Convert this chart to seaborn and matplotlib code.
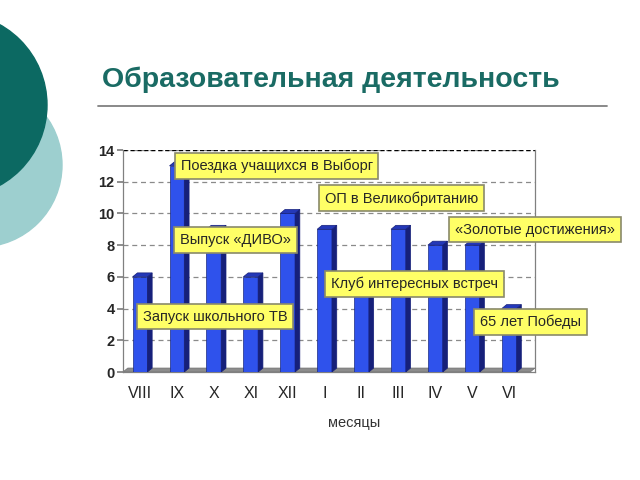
import matplotlib
matplotlib.use("Agg")
import matplotlib.pyplot as plt
import seaborn as sns
from matplotlib.patches import Circle, Polygon

months = ["VIII", "IX", "X", "XI", "XII", "I", "II", "III", "IV", "V", "VI"]
counts = [6, 13, 9, 6, 10, 9, 5, 9, 8, 8, 4]

callout_texts = ["Поездка учащихся в Выборг", "ОП в Великобританию", "Выпуск «ДИВО»",
                 "«Золотые достижения»", "Клуб интересных встреч",
                 "Запуск школьного ТВ", "65 лет Победы"]
callout_x = [3.70, 7.08, 2.59, 10.70, 7.43, 2.03, 10.57]
callout_y = [13.0, 10.95, 8.34, 8.98, 5.54, 3.5, 3.18]

sns.set_theme(style="white")
plt.rcParams['font.family'] = ['Liberation Sans', 'DejaVu Sans']

fig = plt.figure(figsize=(6.4, 4.8), dpi=100)

# slide background: circles, title, rule
bg = fig.add_axes([0, 0, 1, 1])
bg.set_xlim(0, 640)
bg.set_ylim(480, 0)
bg.axis("off")
bg.add_patch(Circle((-20, 165), 82, color="#9dcfcf", zorder=1))
bg.add_patch(Circle((-45, 105), 92, color="#0c6962", zorder=2))
bg.text(102, 80, "Образовательная деятельность", fontsize=20.5, fontweight="bold",
        color="#1a6b64", va="center", ha="left")
bg.plot([98, 607], [106, 106], color="#808080", lw=1.3)

ax = fig.add_axes([123 / 640, 1 - 372 / 480, (535 - 123) / 640, (372 - 150) / 480])
sns.barplot(x=months, y=counts, color="#2f52ec", width=0.4, saturation=1,
            edgecolor="#1b2a80", linewidth=0.5, ax=ax, zorder=3)

dx, dy = 0.13, 0.25
for p in ax.patches[:len(counts)]:
    x0, w, h = p.get_x(), p.get_width(), p.get_height()
    x1 = x0 + w
    ax.add_patch(Polygon([(x1, 0), (x1 + dx, dy), (x1 + dx, h + dy), (x1, h)],
                         closed=True, fc="#16207a", ec="#16207a", lw=0.5, zorder=3))
    ax.add_patch(Polygon([(x0, h), (x0 + dx, h + dy), (x1 + dx, h + dy), (x1, h)],
                         closed=True, fc="#2438b8", ec="#16207a", lw=0.5, zorder=3))

# floor
ax.add_patch(Polygon([(-0.46, 0), (-0.46 + dx, dy), (10.7, dy), (10.7 - dx, 0)],
                     closed=True, fc="#8c8c8c", ec="#707070", lw=0.5, zorder=2))

ax.set_xlim(-0.46, 10.7)
ax.set_ylim(0, 14)
ax.set_yticks(range(0, 15, 2))
for yv in range(2, 15, 2):
    ax.axhline(yv, color="#8a8a8a", ls=(0, (4, 3)), lw=0.9, zorder=1)
ax.axhline(14, color="black", ls=(0, (3, 2)), lw=1.0, zorder=1)

for s in ["left", "bottom", "right"]:
    ax.spines[s].set_color("#808080")
    ax.spines[s].set_linewidth(0.9)
ax.spines["top"].set_visible(False)
ax.tick_params(axis="y", left=True, length=4, color="#808080", labelsize=10.5, pad=2)
ax.tick_params(axis="x", bottom=False, labelsize=11.5, pad=4)
for lab in ax.get_yticklabels():
    lab.set_fontweight("bold")
ax.set_xlabel("месяцы", fontsize=10.5, labelpad=4, color="#333333")
ax.xaxis.set_label_coords(0.56, -0.2)
ax.set_ylabel("")

for t, x, y in zip(callout_texts, callout_x, callout_y):
    ax.text(x, y, t, fontsize=10.5, ha="center", va="center", zorder=6, clip_on=False,
            bbox=dict(boxstyle="square,pad=0.4", fc="#ffff66", ec="#8a8a6a", lw=1.2))

fig.savefig("out.png", dpi=100)
